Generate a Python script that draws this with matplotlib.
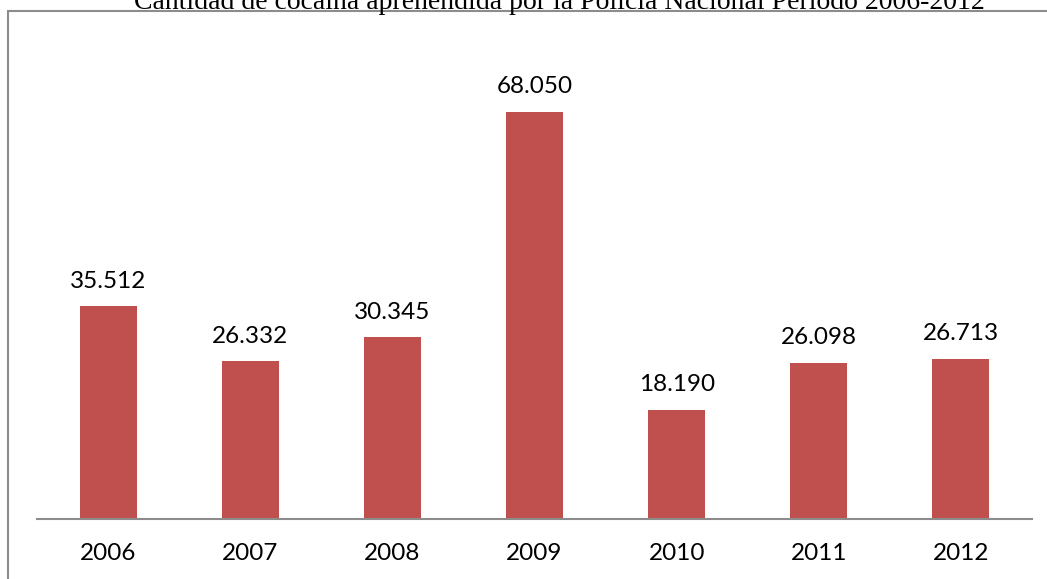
import matplotlib
matplotlib.use("Agg")
import matplotlib.pyplot as plt
from matplotlib.patches import Rectangle

years = ['2006', '2007', '2008', '2009', '2010', '2011', '2012']
values = [35.512, 26.332, 30.345, 68.050, 18.190, 26.098, 26.713]
labels = ['35.512', '26.332', '30.345', '68.050', '18.190', '26.098', '26.713']
title = 'Cantidad de cocaína aprehendida por la Policía Nacional Período 2006-2012'

W, H = 1047, 579
fig = plt.figure(figsize=(W / 100, H / 100), dpi=100)

# chart area border (cut off at right and bottom like the original)
fig.patches.append(Rectangle((8 / W, -0.05), 1.2, 1 - 11 / H + 0.05,
                             transform=fig.transFigure, fill=False,
                             edgecolor='#8c8c8c', linewidth=1.5))

ax = fig.add_axes([37 / W, 1 - 519 / H, (1032 - 37) / W, (519 - 40) / H])
x = range(len(years))
ax.bar(x, values, width=0.4, color='#c0504d')
ax.set_xlim(-0.5, len(years) - 0.5)
ax.set_ylim(0, 80)

for i, (v, lab) in enumerate(zip(values, labels)):
    ax.annotate(lab, (i, v), xytext=(0, 13.5), textcoords='offset points',
                ha='center', va='baseline', fontsize=17.5, family='Lato')

for s in ['top', 'right', 'left']:
    ax.spines[s].set_visible(False)
ax.spines['bottom'].set_color('#8c8c8c')
ax.spines['bottom'].set_linewidth(1.5)
ax.set_yticks([])
ax.set_xticks(list(x))
ax.set_xticklabels(years, fontsize=17.5, family='Lato')
ax.tick_params(axis='x', length=0, pad=17)

fig.text(559 / W, 1 - 9 / H, title, ha='center', va='baseline',
         fontsize=20, family='Liberation Serif')

fig.savefig('out.png', dpi=100)
